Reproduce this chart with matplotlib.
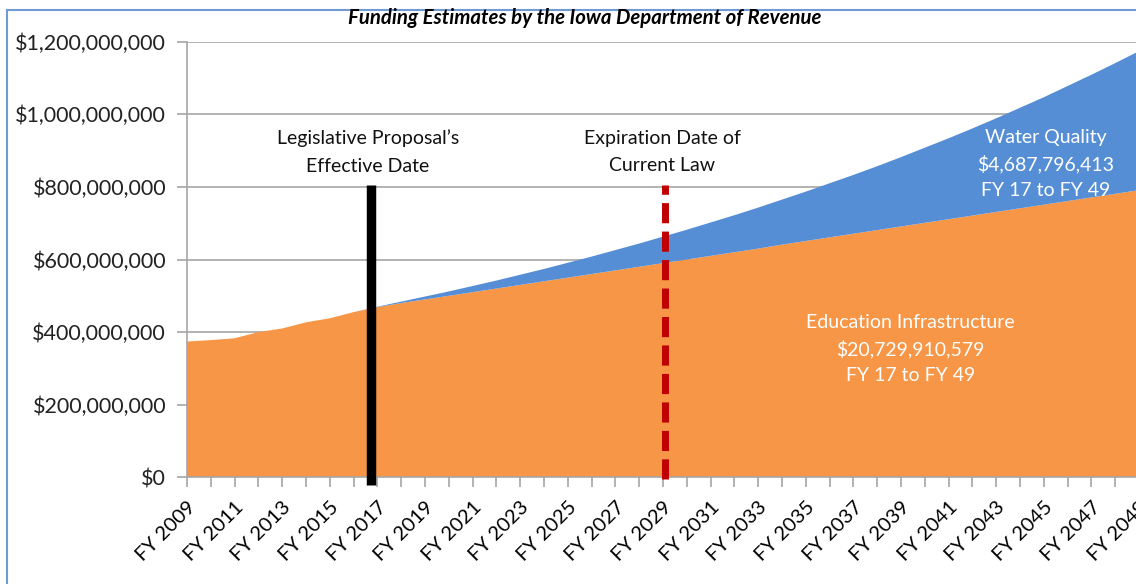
import numpy as np
import matplotlib.pyplot as plt
from matplotlib.patches import Rectangle

plt.rcParams['font.family'] = ['Lato', 'DejaVu Sans']

years = list(range(2009, 2050))

# millions of dollars
education = [374, 378, 383, 400, 410, 427, 438, 455, 469, 480,
             490, 500, 510, 520, 530, 540, 550, 560, 570, 580,
             590, 600, 610, 620, 630, 641, 651, 661, 671, 681,
             691, 701, 711, 721, 731, 741, 751, 761, 771, 781, 791]
water = [0, 0, 0, 0, 0, 0, 0, 0, 1, 4,
         8, 12, 17, 22, 28, 34, 41, 48, 56, 64,
         73, 82, 92, 102, 113, 124, 136, 149, 162, 176,
         191, 207, 223, 240, 258, 277, 296, 317, 338, 360, 383]

yticks = [0, 200e6, 400e6, 600e6, 800e6, 1000e6, 1200e6]
ytick_labels = ['$0', '$200,000,000', '$400,000,000', '$600,000,000',
                '$800,000,000', '$1,000,000,000', '$1,200,000,000']

title = 'Funding Estimates by the Iowa Department of Revenue'
effective_year = 2016.75
expiration_year = 2029.1
marker_top = 805e6

edu = np.array(education) * 1e6
wat = np.array(water) * 1e6

W, H = 1136, 584
fig = plt.figure(figsize=(W / 100, H / 100), dpi=100)
ax = fig.add_axes([187 / W, 1 - 477.3 / H, (1139 - 187) / W, (477.3 - 41.7) / H])

ax.stackplot(years, edu, wat, colors=['#F79646', '#558ED5'], linewidth=0)

ax.set_xlim(2009, 2049)
ax.set_ylim(0, 1.2e9)
ax.set_yticks(yticks)
ax.set_yticklabels(ytick_labels, fontsize=15.5, color='#222222')
ax.set_xticks(years)
ax.set_xticklabels(['FY %i' % y if (y - 2009) % 2 == 0 else '' for y in years],
                   fontsize=14.5, rotation=45, ha='right', rotation_mode='anchor')
ax.tick_params(axis='both', direction='out', length=7, color='#a6a6a6', width=1.2)
ax.tick_params(axis='x', pad=8)
ax.tick_params(axis='y', pad=8)

ax.grid(axis='y', color='#a6a6a6', linewidth=1.2)
ax.set_axisbelow(True)
for side in ['top', 'right']:
    ax.spines[side].set_visible(False)
for side in ['left', 'bottom']:
    ax.spines[side].set_color('#a6a6a6')
    ax.spines[side].set_linewidth(1.2)

# marker lines
ax.plot([effective_year, effective_year], [-22e6, marker_top], color='black',
        linewidth=6.8, solid_capstyle='butt', clip_on=False, zorder=5)
ax.plot([expiration_year, expiration_year], [-5e6, marker_top], color='#C00000',
        linewidth=5, dashes=(2.9, 1.2), clip_on=False, zorder=5)

ax.text(2016.6, 896e6, 'Legislative Proposal\u2019s\nEffective Date', ha='center',
        va='center', fontsize=14, linespacing=1.75, color='#111111')
ax.text(2028.97, 896e6, 'Expiration Date of\nCurrent Law', ha='center',
        va='center', fontsize=14, linespacing=1.75, color='#111111')
ax.text(2045.07, 863e6, 'Water Quality\n$4,687,796,413\nFY 17 to FY 49', ha='center',
        va='center', fontsize=14, linespacing=1.6, color='white')
ax.text(2039.4, 354e6, 'Education Infrastructure\n$20,729,910,579\nFY 17 to FY 49',
        ha='center', va='center', fontsize=14, linespacing=1.6, color='white')

fig.text(585 / W, 1 - 18 / H, title, ha='center', va='center', fontsize=14.7,
         fontweight='bold', fontstyle='italic')

# chart border
fig.patches.append(Rectangle((7 / W, -0.1), 1.2, 1 - 10 / H + 0.1,
                             transform=fig.transFigure, fill=False,
                             edgecolor='#6E9BD2', linewidth=1.5))

plt.savefig('out.png', dpi=100)
